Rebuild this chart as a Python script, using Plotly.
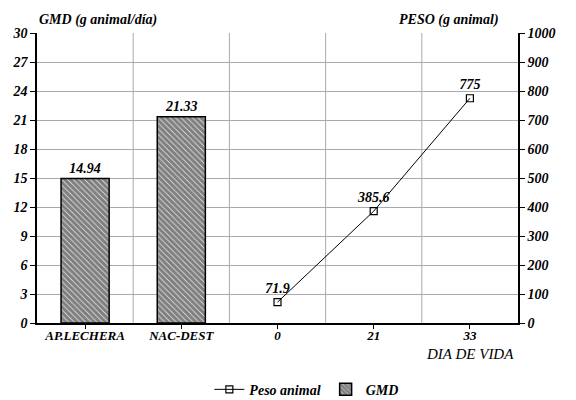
import plotly.graph_objects as go

categories = ["AP.LECHERA", "NAC-DEST", "0", "21", "33"]
gmd_cats = ["AP.LECHERA", "NAC-DEST"]
gmd_vals = [14.94, 21.33]
peso_cats = ["0", "21", "33"]
peso_vals = [71.9, 385.6, 775]

FONT = "Liberation Serif"
tf = dict(family=FONT, size=14, color="black")

fig = go.Figure()
fig.add_trace(go.Bar(
    x=gmd_cats, y=gmd_vals, name="<b><i>GMD</i></b>", width=0.5,
    marker=dict(color="#333333", line=dict(color="black", width=1.5),
                pattern=dict(shape="\\", fgcolor="black", bgcolor="white", size=4, solidity=0.85)),
    text=[f"{v:.2f}" for v in gmd_vals], textposition="outside",
    texttemplate="<b><i>%{text}</i></b>",
    textfont=dict(family=FONT, size=14, color="black"), cliponaxis=False,
    xaxis="x", yaxis="y",
))
fig.add_trace(go.Scatter(
    x=peso_cats, y=peso_vals, name="<b><i>Peso animal</i></b>", mode="lines+markers+text",
    line=dict(color="black", width=1),
    marker=dict(symbol="square-open", size=7, color="black", line=dict(width=1.2)),
    text=[f"{v:g}" for v in peso_vals], textposition="top center",
    texttemplate="<b><i>%{text}</i></b>",
    textfont=dict(family=FONT, size=14, color="black"),
    xaxis="x", yaxis="y2", cliponaxis=False,
))

bi = dict(tickprefix="<b><i>", ticksuffix="</i></b>")
shapes = [dict(type="line", xref="x", yref="paper", x0=b, x1=b, y0=0, y1=1,
               line=dict(color="#aaaaaa", width=1), layer="below")
          for b in [0.5, 1.5, 2.5, 3.5]]

fig.update_layout(
    width=576, height=400,
    margin=dict(l=37, r=58, t=33, b=77, autoexpand=False),
    paper_bgcolor="white", plot_bgcolor="white",
    font=dict(family=FONT, size=13, color="black"),
    showlegend=True,
    legend=dict(orientation="h", x=0.56, xanchor="center", y=-0.175, yanchor="top",
                font=dict(family=FONT, size=14, color="black"), traceorder="reversed"),
    xaxis=dict(type="category", categoryorder="array", categoryarray=categories,
               range=[-0.5, 4.5], showgrid=False, showline=True, linecolor="black", linewidth=1.5,
               ticks="outside", ticklen=4, tickcolor="black", automargin=False,
               ticklabelstandoff=-4,
               tickfont=dict(family=FONT, size=13, color="black"), **bi),
    yaxis=dict(range=[0, 30], dtick=3, showgrid=True, gridcolor="#aaaaaa", gridwidth=1,
               showline=True, linecolor="black", linewidth=1.5, ticks="outside", ticklen=5,
               tickcolor="black", zeroline=False, automargin=False,
               tickfont=dict(family=FONT, size=14, color="black"), **bi),
    yaxis2=dict(range=[0, 1000], dtick=100, overlaying="y", side="right", showgrid=False,
                showline=True, linecolor="black", linewidth=1.5, ticks="outside", ticklen=5,
                tickcolor="black", zeroline=False, automargin=False,
                tickfont=dict(family=FONT, size=14, color="black"), **bi),
    shapes=shapes,
    annotations=[
        dict(text="<b><i>GMD (g animal/día)</i></b>", xref="paper", yref="paper", x=0.0, y=1.0,
             xanchor="left", yanchor="bottom", yshift=3, showarrow=False, font=tf),
        dict(text="<b><i>PESO (g animal)</i></b>", xref="paper", yref="paper", x=0.965, y=1.0,
             xanchor="right", yanchor="bottom", yshift=3, showarrow=False, font=tf),
        dict(text="<i>DIA DE VIDA</i>", xref="paper", yref="paper", x=0.995, y=0,
             xanchor="right", yanchor="top", yshift=-21, showarrow=False,
             font=dict(family=FONT, size=15, color="black")),
    ],
)
fig.write_html("out.html", config={"displayModeBar": False},
               post_script="document.body.style.margin='0';")
